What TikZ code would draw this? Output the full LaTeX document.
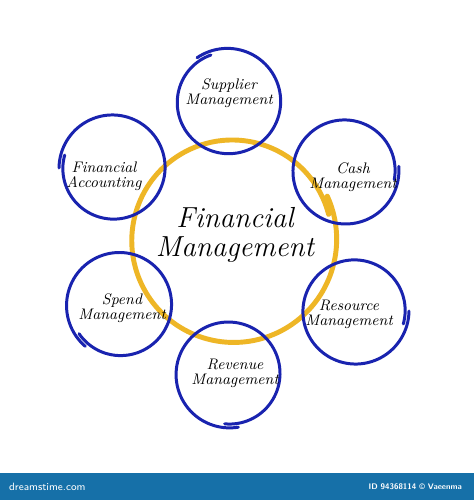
\documentclass[tikz,border=0pt]{standalone}
\usepackage{tikz}
\usetikzlibrary{positioning}
\definecolor{ringblue}{RGB}{25,35,175}
\definecolor{ringyellow}{RGB}{238,182,38}
\definecolor{barblue}{RGB}{22,112,168}
\tikzset{
    bluering/.style={draw=ringblue, line width=1.7pt, line cap=round},
    yellowring/.style={draw=ringyellow, line width=2.8pt, line cap=round},
    smalltext/.style={align=center, font=\itshape\fontsize{8.7}{8.7}\selectfont},
    bigtext/.style={align=center, font=\itshape\fontsize{16.5}{16.5}\selectfont},
}

\begin{document}
\begin{tikzpicture}[x=0.02cm, y=-0.02cm]
		\useasboundingbox[fill=white] (0,0) rectangle (474,500);
		% central circle
		\draw[yellowring] plot[domain=15:385, samples=120, smooth, variable=\t]
			({233+(99+5*(\t-15)/370)*cos(\t)}, {240-(99+5*(\t-15)/370)*sin(\t)});
		\node[bigtext] (fm) at (235,235) {Financial\\Management};
		% outer circles
		\foreach \cx/\cy/\s in {228/102/110, 345/171/-10, 113/168/165, 120/305/215, 355/311/-15, 229/374/265}
			\draw[bluering] plot[domain=\s:\s+375, samples=100, smooth, variable=\t]
				({\cx+(50+4*(\t-\s)/375)*cos(\t)}, {\cy-(50+4*(\t-\s)/375)*sin(\t)});
		\node[smalltext] (supplier) at (229,93) {Supplier\\Management};
		\node[smalltext] (cash) at (353,177) {Cash\\Management};
		\node[smalltext] (accounting) at (104,176) {Financial\\Accounting};
		\node[smalltext] (spend) at (122,308) {Spend\\Management};
		\node[smalltext] (resource) at (349,314) {Resource\\Management};
		\node[smalltext] (revenue) at (235,373) {Revenue\\Management};
		% bottom bar
		\fill[barblue] (0,473) rectangle (474,500);
		\node[white, anchor=west, font=\sffamily\fontsize{6}{6}\selectfont] (site) at (3,487) {dreamstime.com};
		\node[white, anchor=east, font=\sffamily\bfseries\fontsize{4.6}{5}\selectfont] (id) at (468,487) {ID 94368114 \textcopyright{} Vaeenma};
	 \end{tikzpicture}
\end{document}
